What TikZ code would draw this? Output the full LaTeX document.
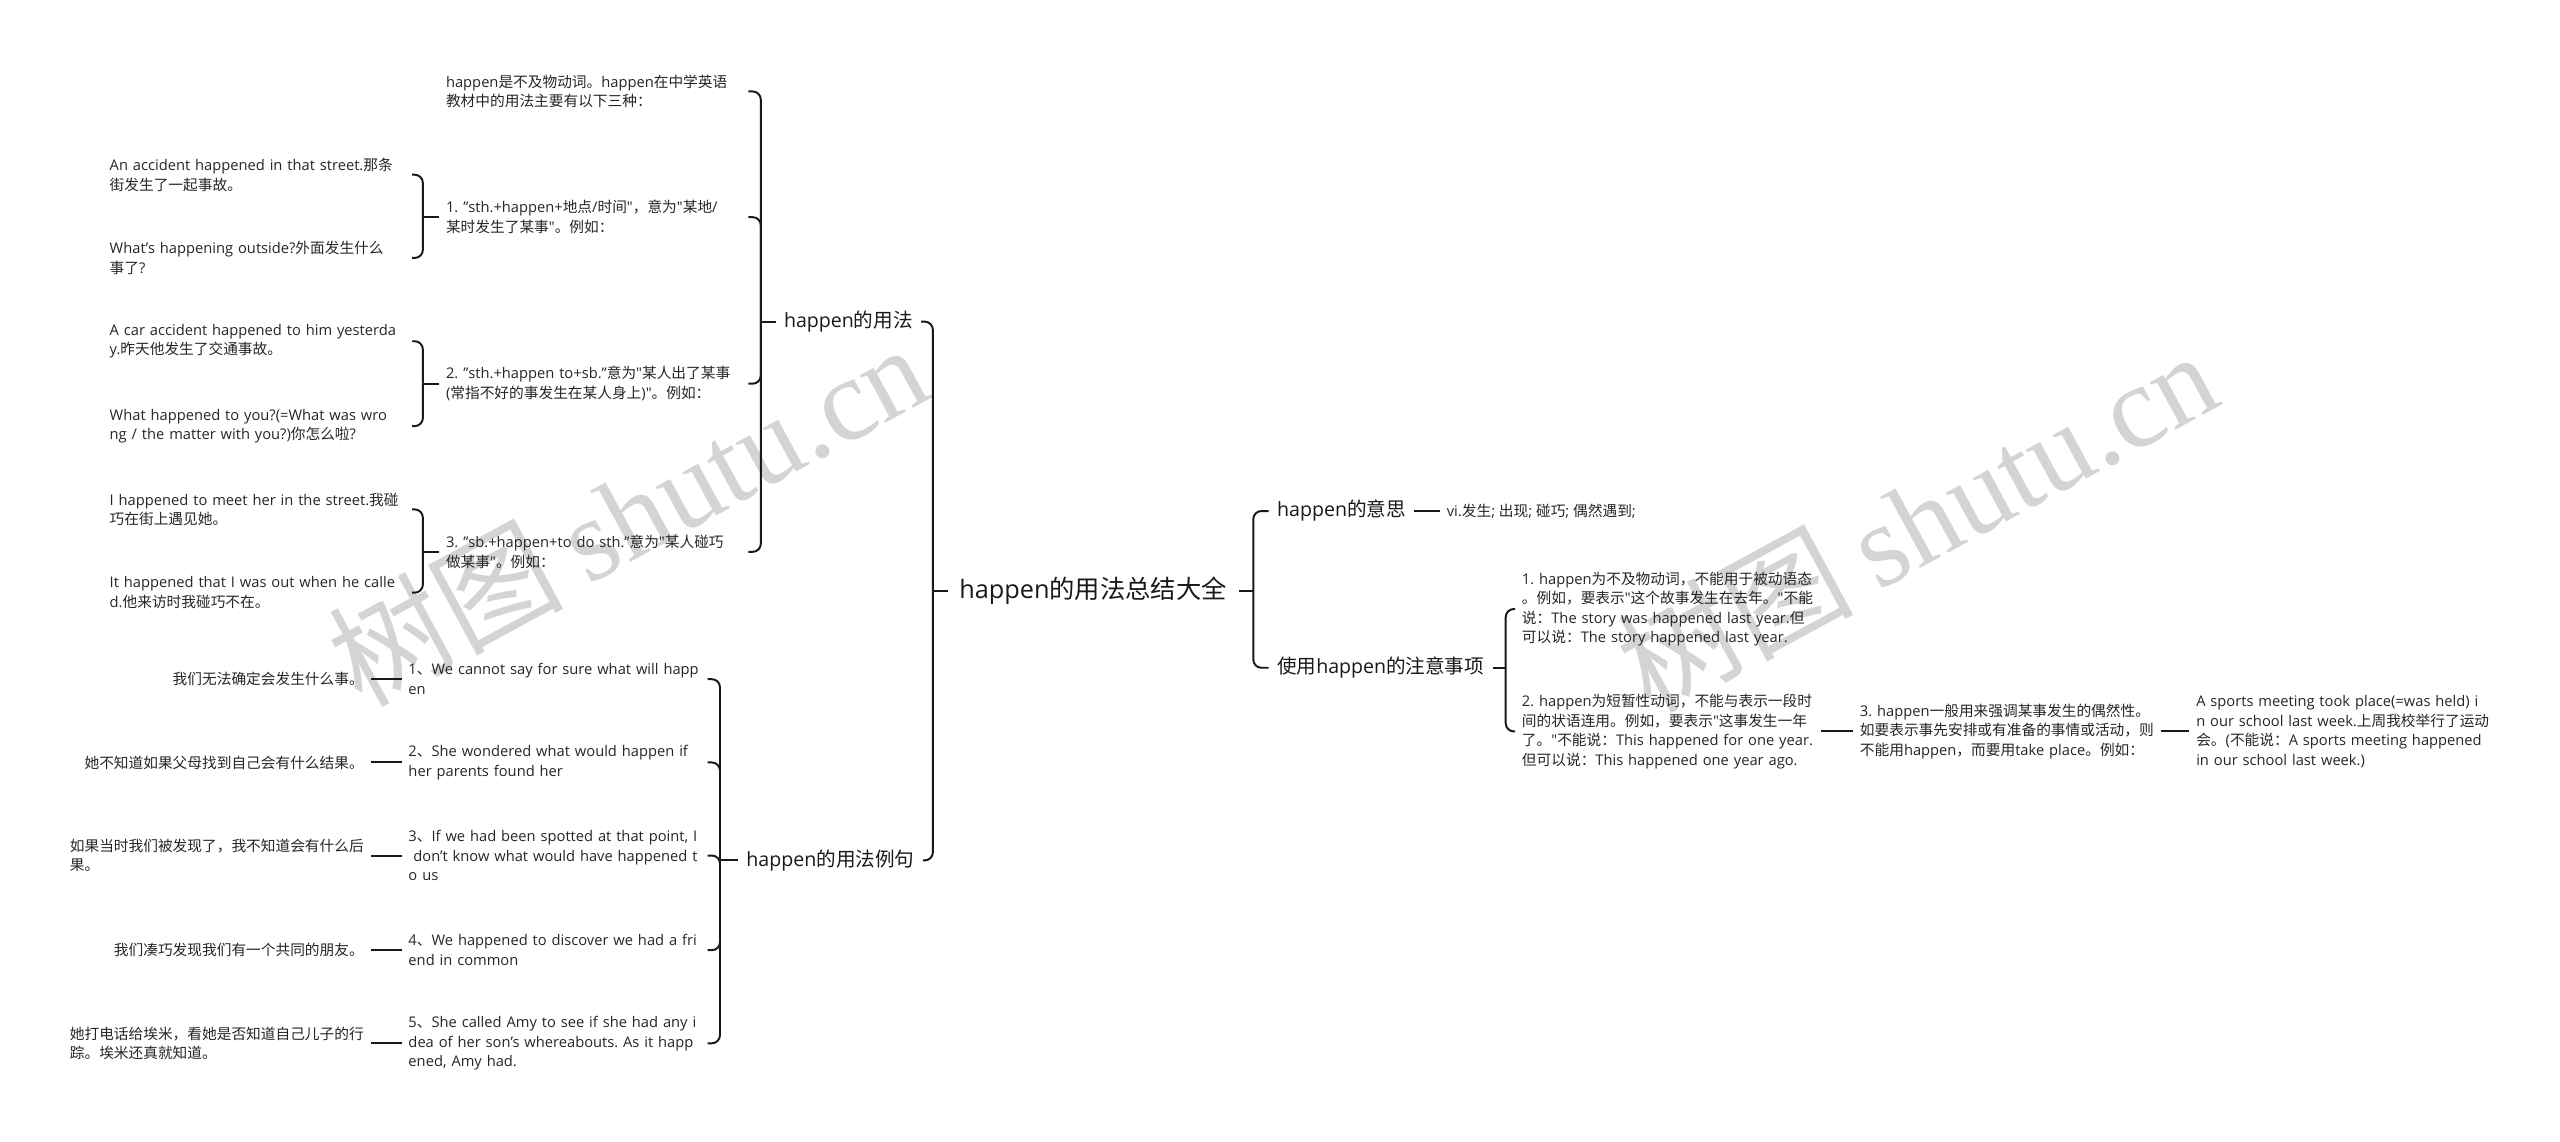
\documentclass[tikz,border=0pt]{standalone}
\usepackage{fontspec}
\setmainfont{Open Sans}
\newfontfamily\cjkfont{Noto Sans CJK SC}
\newfontfamily\latfont{Open Sans}
\newfontfamily\wmserif{Liberation Serif}
\XeTeXinterchartokenstate=1
\newXeTeXintercharclass\CJKclass
\makeatletter
\newcommand\setcjkrange[2]{%
  \count@=#1\relax
  \loop
    \XeTeXcharclass\count@=\CJKclass
  \ifnum\count@<#2\relax
    \advance\count@ by 1\relax
  \repeat}
\setcjkrange{"3000}{"303F}
\setcjkrange{"4E00}{"9FFF}
\setcjkrange{"FF00}{"FFEF}
\makeatother
\XeTeXinterchartoks 0 \CJKclass = {\cjkfont}
\XeTeXinterchartoks 4095 \CJKclass = {\cjkfont}
\XeTeXinterchartoks \CJKclass 0 = {\latfont}
\XeTeXinterchartoks \CJKclass 4095 = {\latfont}
\newcommand\lnx[1]{\mbox{#1}}
\frenchspacing
\begin{document}
\begin{tikzpicture}[x=1pt,y=-1pt,
  conn/.style={line width=1.2pt, rounded corners=5pt, draw=black!90},
  stub/.style={line width=1.2pt, draw=black!90},
  sm/.style={font=\fontsize{9}{12}\selectfont\frenchspacing, inner xsep=4pt, inner ysep=1pt, align=left, anchor=west, text=black!85},
  cn/.style={font=\fontsize{9}{12}\selectfont\frenchspacing, inner xsep=4pt, inner ysep=1pt, align=left, anchor=east, text=black!85},
  lone/.style={font=\fontsize{12}{14}\selectfont, inner xsep=5pt, inner ysep=2pt, text=black!90},
  rootn/.style={font=\fontsize{15.5}{18}\selectfont, inner xsep=7pt, inner ysep=2pt, text=black!90},
  wm/.style={text=black!17, anchor=base west, rotate=28.5, inner sep=0pt, font=\fontsize{72}{80}\selectfont}
]
\fill[white] (0,0) rectangle (1568,699);
\useasboundingbox (0,0) rectangle (1568,699);

% watermarks
\node[wm] (wm1) at (221,434) {{\cjkfont 树图}\hspace{0.2em}{\wmserif shutu.cn}};
\node[wm] (wm2) at (1011,438) {{\cjkfont 树图}\hspace{0.2em}{\wmserif shutu.cn}};

% root and level 1
\node[rootn] (R) at (669.5,362) {happen的用法总结大全};
\node[lone, anchor=west] (U) at (475,197) {happen的用法};
\node[lone, anchor=west] (E) at (452,527) {happen的用法例句};
\node[lone, anchor=west] (M) at (777,313) {happen的意思};
\node[lone, anchor=west] (N) at (777,409) {使用happen的注意事项};

% children of U
\node[sm, text width=181pt] (a) at (269,56) {\lnx{happen是不及物动词。happen在中学英语}\\\lnx{教材中的用法主要有以下三种：}};
\node[sm, text width=181pt] (b) at (269,133) {\lnx{1. "sth.+happen+地点/时间"，意为"某地/}\\\lnx{某时发生了某事"。例如：}};
\node[sm, text width=181pt] (c) at (269,235) {\lnx{2. "sth.+happen to+sb."意为"某人出了某事}\\\lnx{(常指不好的事发生在某人身上)"。例如：}};
\node[sm, text width=181pt] (d) at (269,338) {\lnx{3. "sb.+happen+to do sth."意为"某人碰巧}\\\lnx{做某事"。例如：}};

\node[sm, text width=181pt] (b1) at (63,107) {\lnx{An accident happened in that street.那条}\\\lnx{街发生了一起事故。}};
\node[sm, text width=181pt] (b2) at (63,158) {\lnx{What's happening outside?外面发生什么}\\\lnx{事了?}};
\node[sm, text width=181pt] (c1) at (63,209) {\lnx{A car accident happened to him yesterda}\\\lnx{y.昨天他发生了交通事故。}};
\node[sm, text width=181pt] (c2) at (63,261) {\lnx{What happened to you?(=What was wro}\\\lnx{ng / the matter with you?)你怎么啦?}};
\node[sm, text width=181pt] (d1) at (63,312) {\lnx{I happened to meet her in the street.我碰}\\\lnx{巧在街上遇见她。}};
\node[sm, text width=181pt] (d2) at (63,363) {\lnx{It happened that I was out when he calle}\\\lnx{d.他来访时我碰巧不在。}};

% children of E
\node[sm, text width=179pt] (e1) at (246,416) {\lnx{1、We cannot say for sure what will happ}\\\lnx{en}};
\node[sm, text width=179pt] (e2) at (246,467) {\lnx{2、She wondered what would happen if}\\\lnx{her parents found her}};
\node[sm, text width=179pt] (e3) at (246,524) {\lnx{3、If we had been spotted at that point, I}\\\lnx{\ don't know what would have happened t}\\\lnx{o us}};
\node[sm, text width=179pt] (e4) at (246,582) {\lnx{4、We happened to discover we had a fri}\\\lnx{end in common}};
\node[sm, text width=179pt] (e5) at (246,639) {\lnx{5、She called Amy to see if she had any i}\\\lnx{dea of her son's whereabouts. As it happ}\\\lnx{ened, Amy had.}};

\node[cn] (f1) at (227,416) {我们无法确定会发生什么事。};
\node[cn] (f2) at (227,467) {她不知道如果父母找到自己会有什么结果。};
\node[cn] (f3) at (227,524) {如果当时我们被发现了，我不知道会有什么后\\果。};
\node[cn] (f4) at (227,582) {我们凑巧发现我们有一个共同的朋友。};
\node[cn] (f5) at (227,639) {她打电话给埃米，看她是否知道自己儿子的行\\踪。埃米还真就知道。};

% right side
\node[sm] (V) at (882,313) {vi.发生; 出现; 碰巧; 偶然遇到;};
\node[sm, text width=179pt] (n1) at (928,373) {\lnx{1. happen为不及物动词，不能用于被动语态}\\\lnx{。例如，要表示"这个故事发生在去年。"不能}\\\lnx{说：The story was happened last year.但}\\\lnx{可以说：The story happened last year.}};
\node[sm, text width=179pt] (n2) at (928,448) {\lnx{2. happen为短暂性动词，不能与表示一段时}\\\lnx{间的状语连用。例如，要表示"这事发生一年}\\\lnx{了。"不能说：This happened for one year.}\\\lnx{但可以说：This happened one year ago.}};
\node[sm, text width=180pt] (n3) at (1135,448) {\lnx{3. happen一般用来强调某事发生的偶然性。}\\\lnx{如要表示事先安排或有准备的事情或活动，则}\\\lnx{不能用happen，而要用take place。例如：}};
\node[sm, text width=180pt] (n4) at (1341,448) {\lnx{A sports meeting took place(=was held) i}\\\lnx{n our school last week.上周我校举行了运动}\\\lnx{会。(不能说：A sports meeting happened}\\\lnx{in our school last week.)}};

% connectors: root
\draw[stub] (R.west) -- ++(-9,0) coordinate (rl);
\draw[conn] (rl) |- (U.east);
\draw[conn] (rl) |- (E.east);
\draw[stub] (R.east) -- ++(9,0) coordinate (rr);
\draw[conn] (rr) |- (M.west);
\draw[conn] (rr) |- (N.west);

% U
\draw[stub] (U.west) -- ++(-9,0) coordinate (uj);
\foreach \c in {a,b,c,d} \draw[conn] (uj) |- (\c.east);
\foreach \p in {b,c,d} {
  \draw[stub] (\p.west) -- ++(-10,0) coordinate (\p j);
  \draw[conn] (\p j) |- (\p1.east);
  \draw[conn] (\p j) |- (\p2.east);
}

% E
\draw[stub] (E.west) -- ++(-11,0) coordinate (ej);
\foreach \c in {e1,e2,e3,e4,e5} \draw[conn] (ej) |- (\c.east);
\foreach \i in {1,...,5} \draw[stub] (e\i.west) -- (f\i.east);

% right
\draw[stub] (M.east) -- (V.west);
\draw[stub] (N.east) -- ++(8,0) coordinate (nj);
\draw[conn] (nj) |- (n1.west);
\draw[conn] (nj) |- (n2.west);
\draw[stub] (n2.east) -- (n3.west);
\draw[stub] (n3.east) -- (n4.west);
\end{tikzpicture}
\end{document}
